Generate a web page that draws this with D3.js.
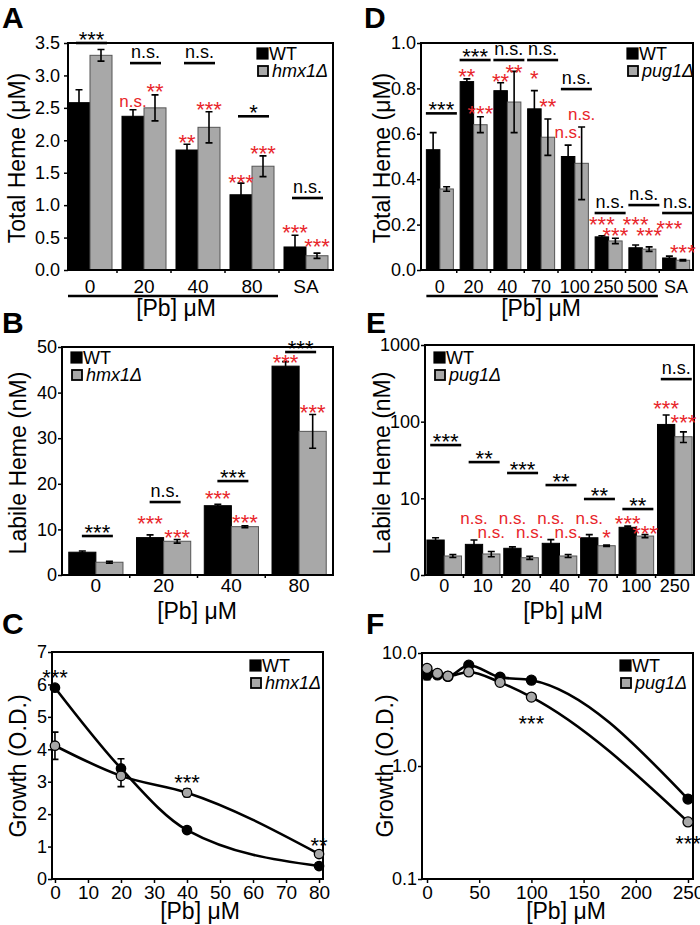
<!DOCTYPE html>
<html><head><meta charset="utf-8">
<script src="https://cdn.jsdelivr.net/npm/d3@7"></script>
<style>
body{margin:0;background:#fff}
svg{display:block}
text{font-family:Arial,"Liberation Sans",sans-serif}
</style>
</head><body>
<svg id="c" width="700" height="925"></svg>
<script>
// ---------- Panel A: total heme, WT vs hmx1Δ ----------
const catsA = ["0","20","40","80","SA"];
const wtA = [2.58,2.37,1.85,1.16,0.355];
const wtAerr = [0.2,0.1,0.09,0.18,0.18];
const hmxA = [3.31,2.50,2.20,1.60,0.22];
const hmxAerr = [0.09,0.2,0.24,0.16,0.04];
const sigA = ["***","n.s.","n.s.","*","n.s."];
const sigAy = [3.5,3.19,3.19,2.37,1.11];
const redWtA = ["","n.s.","**","***","***"];
const redWtAy = [0,2.59,2.05,1.43,0.66];
const redHmxA = ["","**","***","***","***"];
const redHmxAy = [0,2.84,2.56,1.88,0.45];
const ticksA = [0,0.5,1,1.5,2,2.5,3,3.5];

// ---------- Panel D: total heme, WT vs pug1Δ ----------
const catsD = ["0","20","40","70","100","250","500","SA"];
const wtD = [0.53,0.83,0.79,0.71,0.50,0.146,0.098,0.053];
const wtDerr = [0.075,0.012,0.035,0.08,0.05,0.005,0.012,0.008];
const pugD = [0.357,0.64,0.74,0.585,0.47,0.128,0.092,0.043];
const pugDerr = [0.01,0.035,0.135,0.08,0.16,0.012,0.01,0.003];
const sigD = ["***","***","n.s.","n.s.","n.s.","n.s.","n.s.","n.s."];
const sigDy = [0.69,0.925,0.925,0.925,0.797,0.251,0.286,0.251];
const redWtD = ["","**","**","*","n.s.","***","***","***"];
const redWtDy = [0,0.877,0.855,0.868,0.60,0.225,0.225,0.207];
const redPugD = ["","***","**","**","n.s.","***","***","***"];
const redPugDy = [0,0.714,0.894,0.744,0.683,0.176,0.176,0.101];
const ticksD = [0,0.2,0.4,0.6,0.8,1.0];

// ---------- Panel B: labile heme, WT vs hmx1Δ ----------
const catsB = ["0","20","40","80"];
const wtB = [5.0,8.2,15.2,45.8];
const wtBerr = [0.25,0.6,0.3,1.0];
const hmxB = [2.8,7.4,10.6,31.5];
const hmxBerr = [0.2,0.4,0.2,3.7];
const sigB = ["***","n.s.","***","***"];
const sigBy = [8.55,16.0,20.6,48.9];
const redWtB = ["","***","***","***"];
const redWtBy = [0,12.5,18.0,47.8];
const redHmxB = ["","***","***","***"];
const redHmxBy = [0,9.4,12.7,36.8];
const ticksB = [0,10,20,30,40,50];

// ---------- Panel E: labile heme, WT vs pug1Δ (log) ----------
const catsE = ["0","10","20","40","70","100","250"];
const wtE = [2.86,2.51,2.23,2.59,3.06,4.19,92];
const wtEerr = [0.2,0.35,0.1,0.3,0.3,0.15,30];
const pugE = [1.77,1.88,1.68,1.77,2.41,3.22,63.6];
const pugEerr = [0.08,0.15,0.08,0.08,0.05,0.15,10];
const sigE = ["***","**","***","**","**","**","n.s."];
const sigEy = [49.5,29.7,21.4,14.9,9.8,7.25,359];
const redWtE = ["","n.s.","n.s.","n.s.","n.s.","***","***"];
const redWtEy = [1,5.37,5.37,5.37,5.37,5.54,175];
const redPugE = ["","n.s.","n.s.","n.s.","*","***","***"];
const redPugEy = [1,3.53,3.53,3.53,3.64,4.1,115];
const ticksE = [1,10,100,1000];
const tickLabelsE = ["0","10","100","1000"];

// ---------- Panel C: growth, WT vs hmx1Δ ----------
const pbC = [0,20,40,80];
const wtC = [5.9,3.41,1.51,0.40];
const wtCerr = [0.08,0.3,0.08,0.08];
const hmxC = [4.11,3.18,2.66,0.77];
const hmxCerr = [0.42,0.33,0.12,0.1];
const annC = ["***","***","**"];
const annCx = [0,40,80];
const annCy = [6.38,3.15,1.2];
const ticksCx = [0,10,20,30,40,50,60,70,80];
const ticksCy = [0,1,2,3,4,5,6,7];

// ---------- Panel F: growth, WT vs pug1Δ (log) ----------
const pbF = [0,10,20,40,70,100,250];
const wtF = [6.4,6.4,6.2,7.8,6.1,5.75,0.51];
const wtFerr = [0.6,0.1,0.1,0.15,0.1,0.1,0.03];
const pugF = [7.3,6.6,6.25,6.8,5.5,4.07,0.32];
const pugFerr = [0.15,0.1,0.1,0.1,0.1,0.1,0.02];
const annF = ["***","***"];
const annFx = [100,250];
const annFy = [2.66,0.23];
const ticksFx = [0,50,100,150,200,250];
const ticksFy = [0.1,1,10];

// ================= drawing =================
const svg = d3.select("#c");
const RED = "#e8262b", GRAY = "#a8a8a8";
const STAR = 22, NS = 18, RNS = 17;

function isStar(t){ return /^\*+$/.test(t); }
function label(g, t, x, yc, color, fsNs){
  const fs = isStar(t) ? STAR : fsNs;
  const base = isStar(t) ? yc + 0.58*fs : yc + 0.27*fs;
  g.append("text").attr("x", x).attr("y", base).attr("text-anchor","middle")
    .attr("font-size", fs).attr("fill", color).text(t);
}

function frame(g, x0, x1, y0, y1){
  g.append("rect").attr("x",x0).attr("y",y0).attr("width",x1-x0).attr("height",y1-y0)
    .attr("fill","none").attr("stroke","#000").attr("stroke-width",2);
}

function yAxis(g, y, x0, vals, fmt, pad){
  const ax = d3.axisLeft(y).tickValues(vals).tickFormat(fmt).tickSize(4).tickPadding(pad);
  const a = g.append("g").attr("transform",`translate(${x0},0)`).call(ax);
  a.select(".domain").remove();
  a.selectAll("line").attr("stroke","#000").attr("stroke-width",1.5);
  a.selectAll("text").attr("font-size",18).attr("fill","#000").attr("font-family","Arial, Liberation Sans, sans-serif");
}

function legend(g, x, y, name){
  g.append("rect").attr("x",x).attr("y",y).attr("width",11).attr("height",11).attr("fill","#000").attr("stroke","#000").attr("stroke-width",1.2);
  g.append("text").attr("x",x+12).attr("y",y+11.5).attr("font-size",18).text("WT");
  g.append("rect").attr("x",x+1).attr("y",y+18).attr("width",10).attr("height",10).attr("fill",GRAY).attr("stroke","#000").attr("stroke-width",1.8);
  g.append("text").attr("x",x+15).attr("y",y+28.5).attr("font-size",18).attr("font-style","italic").text(name);
}

function ylabel(g, t, x, yc){
  g.append("text").attr("transform",`translate(${x},${yc}) rotate(-90)`).attr("text-anchor","middle")
    .attr("font-size",23).text(t);
}
function panelLetter(t, x, y){
  svg.append("text").attr("x",x).attr("y",y).attr("font-size",30).attr("font-weight","bold").text(t);
}

function barPanel(o){
  const g = svg.append("g");
  const x = d3.scaleBand().domain(o.cats).range(o.xr).paddingInner(o.pi).paddingOuter(o.po);
  const y = o.y;
  const hb = x.bandwidth()/2;
  const yb = o.fr[3];
  const series = [
    {v:o.wt, e:o.wtE, fill:"#000", stroke:"#000", off:0},
    {v:o.mu, e:o.muE, fill:GRAY, stroke:"#555", off:hb}
  ];
  series.forEach(s=>{
    g.selectAll(null).data(o.cats).enter().append("rect")
      .attr("x", c=>x(c)+s.off).attr("width", hb)
      .attr("y", (c,i)=>y(s.v[i])).attr("height",(c,i)=>yb-y(s.v[i]))
      .attr("fill", s.fill).attr("stroke", s.stroke).attr("stroke-width",1);
  });
  series.forEach(s=>{
    o.cats.forEach((c,i)=>{
      const cx = x(c)+s.off+hb/2;
      const top = y(s.v[i]+s.e[i]);
      const bot = y(Math.max(s.v[i]-s.e[i], o.ymin));
      g.append("path").attr("d",`M${cx},${top}V${bot}M${cx-3.5},${top}h7M${cx-3.5},${bot}h7`)
        .attr("stroke","#000").attr("stroke-width",1.6).attr("fill","none");
    });
  });
  frame(g, o.fr[0], o.fr[1], o.fr[2], o.fr[3]);
  yAxis(g, y, o.fr[0], o.ticks, o.fmt, o.pad);
  const step = x.step();
  o.cats.forEach((c,i)=>{
    const cx = x(c)+x.bandwidth()/2;
    g.append("text").attr("x",cx).attr("y",o.xlabY).attr("text-anchor","middle").attr("font-size",o.xfs).text(c);
    if(i<o.cats.length-1){
      const bx = x(c)+x.bandwidth()+step*o.pi/2;
      g.append("line").attr("x1",bx).attr("x2",bx).attr("y1",yb).attr("y2",yb+3).attr("stroke","#000").attr("stroke-width",1.5);
    }
  });
  o.cats.forEach((c,i)=>{
    const cx = x(c)+x.bandwidth()/2;
    const ly = y(o.sigY[i]);
    g.append("line").attr("x1",cx-14).attr("x2",cx+17).attr("y1",ly).attr("y2",ly).attr("stroke","#000").attr("stroke-width",2.6);
    const t = o.sig[i];
    if(isStar(t)) label(g, t, cx+1.5, ly-9, "#000", NS);
    else g.append("text").attr("x",cx+1.5).attr("y",ly-5).attr("text-anchor","middle").attr("font-size",NS).text(t);
  });
  o.cats.forEach((c,i)=>{
    if(o.rW[i]) label(g, o.rW[i], x(c)+hb/2, y(o.rWy[i]), RED, RNS);
    if(o.rM[i]) label(g, o.rM[i], x(c)+hb+hb/2, y(o.rMy[i]), RED, RNS);
  });
  legend(g, o.leg[0], o.leg[1], o.name);
  return {g,x,y};
}

// ---- A ----
const yA = d3.scaleLinear().domain([0,3.5]).range([270,43]);
const pA = barPanel({cats:catsA, xr:[63,333], pi:0.185, po:0.0925, y:yA, ymin:0,
  fr:[68,333,43,270], wt:wtA, wtE:wtAerr, mu:hmxA, muE:hmxAerr, ticks:ticksA, fmt:d3.format(".1f"), pad:4,
  xlabY:293, xfs:19, sig:sigA, sigY:sigAy, rW:redWtA, rWy:redWtAy, rM:redHmxA, rMy:redHmxAy, leg:[257,48], name:"hmx1Δ"});
pA.g.append("line").attr("x1",pA.x("0")).attr("x2",pA.x("80")+pA.x.bandwidth()+4).attr("y1",296).attr("y2",296).attr("stroke","#000").attr("stroke-width",2.6);
pA.g.append("text").attr("x",176).attr("y",316).attr("text-anchor","middle").attr("font-size",23).text("[Pb] μM");
ylabel(pA.g, "Total Heme (μM)", 25, 158);
panelLetter("A", 2, 28);

// ---- D ----
const yD = d3.scaleLinear().domain([0,1]).range([270,43]);
const pD = barPanel({cats:catsD, xr:[423,693], pi:0.2, po:0.1, y:yD, ymin:0,
  fr:[421,693,43,270], wt:wtD, wtE:wtDerr, mu:pugD, muE:pugDerr, ticks:ticksD, fmt:d3.format(".1f"), pad:1,
  xlabY:293, xfs:18, sig:sigD, sigY:sigDy, rW:redWtD, rWy:redWtDy, rM:redPugD, rMy:redPugDy, leg:[627,48], name:"pug1Δ"});
pD.g.append("line").attr("x1",pD.x("0")).attr("x2",pD.x("500")+pD.x.bandwidth()+2).attr("y1",296).attr("y2",296).attr("stroke","#000").attr("stroke-width",2.6);
pD.g.append("text").attr("x",541).attr("y",316).attr("text-anchor","middle").attr("font-size",23).text("[Pb] μM");
ylabel(pD.g, "Total Heme (μM)", 390, 158);
panelLetter("D", 364, 28);

// ---- B ----
const yB = d3.scaleLinear().domain([0,50]).range([575,347]);
const pB = barPanel({cats:catsB, xr:[62,333], pi:0.2, po:0.1, y:yB, ymin:0,
  fr:[62,333,347,575], wt:wtB, wtE:wtBerr, mu:hmxB, muE:hmxBerr, ticks:ticksB, fmt:d3.format("d"), pad:1,
  xlabY:592, xfs:19, sig:sigB, sigY:sigBy, rW:redWtB, rWy:redWtBy, rM:redHmxB, rMy:redHmxBy, leg:[71,352], name:"hmx1Δ"});
pB.g.append("text").attr("x",197).attr("y",619).attr("text-anchor","middle").attr("font-size",23).text("[Pb] μM");
ylabel(pB.g, "Labile Heme (nM)", 26, 463);
panelLetter("B", 2, 333);

// ---- E ----
const yE = d3.scaleLog().domain([1,1000]).range([575,345]);
const pE = barPanel({cats:catsE, xr:[425,694], pi:0.1, po:0.05, y:yE, ymin:1,
  fr:[425,694,345,575], wt:wtE, wtE:wtEerr, mu:pugE, muE:pugEerr, ticks:ticksE, fmt:(d,i)=>tickLabelsE[i], pad:1,
  xlabY:592, xfs:18, sig:sigE, sigY:sigEy, rW:redWtE, rWy:redWtEy, rM:redPugE, rMy:redPugEy, leg:[434,352], name:"pug1Δ"});
pE.g.append("text").attr("x",563).attr("y",619).attr("text-anchor","middle").attr("font-size",23).text("[Pb] μM");
ylabel(pE.g, "Labile Heme (nM)", 390, 463);
panelLetter("E", 366, 333);

// ---- line panels ----
function linePanel(o){
  const g = svg.append("g");
  const x = o.x, y = o.y;
  frame(g, o.fr[0], o.fr[1], o.fr[2], o.fr[3]);
  yAxis(g, y, o.fr[0], o.yt, o.yfmt, 1);
  const xa = d3.axisBottom(x).tickValues(o.xt).tickSize(4).tickPadding(3);
  const a = g.append("g").attr("transform",`translate(0,${o.fr[3]})`).call(xa);
  a.select(".domain").remove();
  a.selectAll("line").attr("stroke","#000").attr("stroke-width",1.5);
  a.selectAll("text").attr("font-size",19).attr("fill","#000").attr("font-family","Arial, Liberation Sans, sans-serif");
  const line = d3.line().x(d=>x(d[0])).y(d=>y(d[1])).curve(d3.curveMonotoneX);
  const ser = [{v:o.wt,e:o.wtE,fill:"#000"},{v:o.mu,e:o.muE,fill:GRAY}];
  ser.forEach(s=>{
    g.append("path").datum(o.xs.map((p,i)=>[p,s.v[i]])).attr("d",line)
      .attr("fill","none").attr("stroke","#000").attr("stroke-width",2.6);
  });
  ser.forEach(s=>{
    o.xs.forEach((p,i)=>{
      const cx = x(p), top = y(s.v[i]+s.e[i]), bot = y(s.v[i]-s.e[i]);
      g.append("path").attr("d",`M${cx},${top}V${bot}M${cx-3.5},${top}h7M${cx-3.5},${bot}h7`)
        .attr("stroke","#000").attr("stroke-width",1.6).attr("fill","none");
    });
    g.selectAll(null).data(o.xs).enter().append("circle")
      .attr("cx",p=>x(p)).attr("cy",(p,i)=>y(s.v[i])).attr("r",o.r)
      .attr("fill",s.fill).attr("stroke","#000").attr("stroke-width",1.3);
  });
  o.ann.forEach((t,i)=> label(g, t, x(o.annx[i]), y(o.anny[i]), "#000", NS));
  legend(g, o.leg[0], o.leg[1], o.name);
  g.append("text").attr("x",o.xlab[0]).attr("y",o.xlab[1]).attr("text-anchor","middle").attr("font-size",23).text("[Pb] μM");
  return g;
}

const gC = linePanel({x:d3.scaleLinear().domain([-0.9,81.2]).range([52,323]),
  y:d3.scaleLinear().domain([0,7]).range([879,652]), fr:[52,323,652,879],
  yt:ticksCy, yfmt:d3.format("d"), xt:ticksCx, xs:pbC, wt:wtC, wtE:wtCerr, mu:hmxC, muE:hmxCerr, r:4.7,
  ann:annC, annx:annCx, anny:annCy, leg:[250,660], name:"hmx1Δ", xlab:[200,919]});
ylabel(gC, "Growth (O.D.)", 26, 766);
panelLetter("C", 2, 634);

const gF = linePanel({x:d3.scaleLinear().domain([-4.8,254.8]).range([422,693]),
  y:d3.scaleLog().domain([0.1,10]).range([879,653]), fr:[422,693,653,879],
  yt:ticksFy, yfmt:d3.format(".1f"), xt:ticksFx, xs:pbF, wt:wtF, wtE:wtFerr, mu:pugF, muE:pugFerr, r:5,
  ann:annF, annx:annFx, anny:annFy, leg:[620,660], name:"pug1Δ", xlab:[566,919]});
ylabel(gF, "Growth (O.D.)", 393, 766);
panelLetter("F", 366, 634);
</script>
</body></html>
